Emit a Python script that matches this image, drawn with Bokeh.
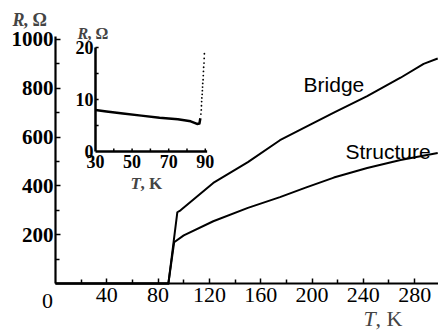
from bokeh.plotting import figure
from bokeh.models import Range1d, FixedTicker, Label, LabelSet, ColumnDataSource
from bokeh.embed import file_html
from bokeh.resources import INLINE

# ---------------- data ----------------
bridge_T = [0, 88, 95, 97.5, 123, 150, 175, 191, 217, 243, 269, 287, 298]
bridge_R = [0, 0, 292, 300, 412, 497, 587, 630, 700, 768, 843, 900, 922]

structure_T = [0, 88, 92.5, 100, 123, 150, 175, 195, 217, 243, 269, 298]
structure_R = [0, 0, 169, 197, 255, 310, 354, 393, 434, 473, 506, 535]

inset_T = [30, 36, 45, 55, 65, 75, 82, 85.5, 86.8, 87.3]
inset_R = [8.0, 7.7, 7.3, 6.9, 6.5, 6.2, 5.8, 5.3, 5.4, 6.4]
dots_T = [87.6, 87.8, 87.9, 88.0, 88.1, 88.3, 88.4, 88.5, 88.6, 88.8, 88.9, 89.0, 89.1, 89.3, 89.4, 89.5]
dots_R = [7.2, 8.0, 8.8, 9.6, 10.3, 11.0, 11.7, 12.4, 13.1, 13.8, 14.6, 15.4, 16.2, 17.0, 17.9, 18.8]

x_major = [40, 80, 120, 160, 200, 240, 280]
x_minor = [20, 60, 100, 140, 180, 220, 260]
y_major = [200, 400, 600, 800, 1000]
y_minor = [100, 300, 500, 700, 900]

inset_x_labels = [30, 50, 70, 90]
inset_x_ticks = [40, 50, 60, 70, 80, 90]
inset_y_labels = [0, 10, 20]
inset_y_ticks = [5, 10, 15, 20]

label_names = ["Bridge", "Structure"]

# ---------------- figure ----------------
SERIF = "Liberation Serif"
SANS = "Liberation Sans"
T_MAX, R_MAX = 298.6, 1012

# the frame covers the whole canvas; axes are pinned at T=0 / R=0
p = figure(width=438, height=332, output_backend="svg", toolbar_location=None,
           x_range=Range1d(-42.88, T_MAX), y_range=Range1d(-200.7, 1159.4),
           min_border_left=0, min_border_right=0, min_border_top=0,
           min_border_bottom=0)
p.extra_x_ranges = {"ix": Range1d(-21.91, 217.43)}
p.extra_y_ranges = {"iy": Range1d(-34.81, 29.04)}
p.outline_line_color = None
p.grid.visible = False
p.background_fill_color = "white"
p.border_fill_color = "white"

# main x axis
xa = p.xaxis[0]
xa.fixed_location = 0
xa.bounds = (0, T_MAX)
xa.ticker = FixedTicker(ticks=x_major, minor_ticks=x_minor)
xa.axis_line_width = 2.2
xa.axis_line_color = "black"
xa.major_tick_in = 5
xa.major_tick_out = 0
xa.minor_tick_in = 4
xa.minor_tick_out = 0
xa.major_tick_line_width = 1.5
xa.minor_tick_line_width = 1.5
xa.major_label_standoff = 4
xa.major_label_text_font = SERIF
xa.major_label_text_font_size = "22px"
xa.major_label_text_color = "black"

# main y axis
ya = p.yaxis[0]
ya.fixed_location = 0
ya.bounds = (0, R_MAX)
ya.ticker = FixedTicker(ticks=y_major, minor_ticks=y_minor)
ya.axis_line_width = 2.2
ya.axis_line_color = "black"
ya.major_tick_in = 5
ya.major_tick_out = 0
ya.minor_tick_in = 4
ya.minor_tick_out = 0
ya.major_tick_line_width = 1.5
ya.minor_tick_line_width = 1.5
ya.major_label_standoff = 2
ya.major_label_text_font = SERIF
ya.major_label_text_font_style = "bold"
ya.major_label_text_font_size = "21px"
ya.major_label_text_color = "black"

# main curves
p.line(bridge_T, bridge_R, line_width=2, line_color="black", line_join="round")
p.line(structure_T, structure_R, line_width=2, line_color="black", line_join="round")

# curve labels
p.add_layout(Label(x=193.4, y=815, text=label_names[0], text_font=SANS,
                   text_font_size="21px", text_color="black",
                   text_baseline="alphabetic", text_align="left"))
p.add_layout(Label(x=226.1, y=539, text=label_names[1], text_font=SANS,
                   text_font_size="21px", text_color="black",
                   text_baseline="alphabetic", text_align="left"))


def canvas_label(x, y, text, **kw):
    """Text placed in canvas pixels (top-left origin), vertically centred at y."""
    kw.setdefault("text_baseline", "middle")
    try:
        lab = Label(x=x, y=y, x_units="canvas", y_units="canvas", text=text, **kw)
    except Exception:
        lab = Label(x=x, y=332 - y, x_units="screen", y_units="screen", text=text, **kw)
    p.add_layout(lab)


# "0" at the origin
canvas_label(47, 300, "0", text_font=SERIF, text_font_size="22px",
             text_align="center", text_color="black")

# main axis titles
canvas_label(12, 19, "R", text_font=SERIF, text_font_style="bold italic",
             text_font_size="18px")
canvas_label(23, 19, ", \u03a9", text_font=SERIF, text_font_style="bold",
             text_font_size="18px")
canvas_label(363, 318, "T", text_font=SERIF, text_font_style="italic",
             text_font_size="22px")
canvas_label(375, 318, ", K", text_font=SERIF, text_font_size="22px")

# ---------------- inset ----------------
IX0, IX1 = 30, 91      # inset x axis extent
IY0, IY1 = 0, 20       # inset y axis extent
tick_dx = 1.7          # ~3px in inset x units
tick_dy = 0.6          # ~3px in inset y units

p.segment(x0=[IX0, IX0], y0=[IY0, IY0], x1=[IX1, IX0], y1=[IY0, IY1],
          x_range_name="ix", y_range_name="iy", line_width=2.5, line_color="black")
p.segment(x0=inset_x_ticks, y0=[0] * len(inset_x_ticks), x1=inset_x_ticks,
          y1=[tick_dy] * len(inset_x_ticks), x_range_name="ix", y_range_name="iy",
          line_width=1.5, line_color="black")
p.segment(x0=[IX0] * len(inset_y_ticks), y0=inset_y_ticks,
          x1=[IX0 + tick_dx] * len(inset_y_ticks), y1=inset_y_ticks,
          x_range_name="ix", y_range_name="iy", line_width=1.5, line_color="black")

p.line(inset_T, inset_R, x_range_name="ix", y_range_name="iy", line_width=2.5,
       line_color="black", line_join="round")
p.scatter(dots_T, dots_R, x_range_name="ix", y_range_name="iy", size=1.8,
          fill_color="black", line_color=None)

src_ix = ColumnDataSource(dict(x=inset_x_labels, y=[0] * len(inset_x_labels),
                               text=[str(v) for v in inset_x_labels]))
p.add_layout(LabelSet(x="x", y="y", text="text", source=src_ix, x_range_name="ix",
                      y_range_name="iy", text_align="center", text_baseline="top",
                      y_offset=-4, text_font=SERIF, text_font_style="bold",
                      text_font_size="18px", text_color="black"))
src_iy = ColumnDataSource(dict(x=[IX0] * len(inset_y_labels), y=inset_y_labels,
                               text=[str(v) for v in inset_y_labels]))
p.add_layout(LabelSet(x="x", y="y", text="text", source=src_iy, x_range_name="ix",
                      y_range_name="iy", text_align="right", text_baseline="middle",
                      x_offset=-2, text_font=SERIF, text_font_style="bold",
                      text_font_size="18px", text_color="black"))

canvas_label(77, 33, "R", text_font=SERIF, text_font_style="bold italic",
             text_font_size="16px")
canvas_label(87, 33, ", \u03a9", text_font=SERIF, text_font_style="bold",
             text_font_size="16px")
canvas_label(130, 183, "T", text_font=SERIF, text_font_style="bold italic",
             text_font_size="17px")
canvas_label(140, 183, ", K", text_font=SERIF, text_font_style="bold",
             text_font_size="17px")

open("out.html", "w").write(file_html(p, INLINE))
